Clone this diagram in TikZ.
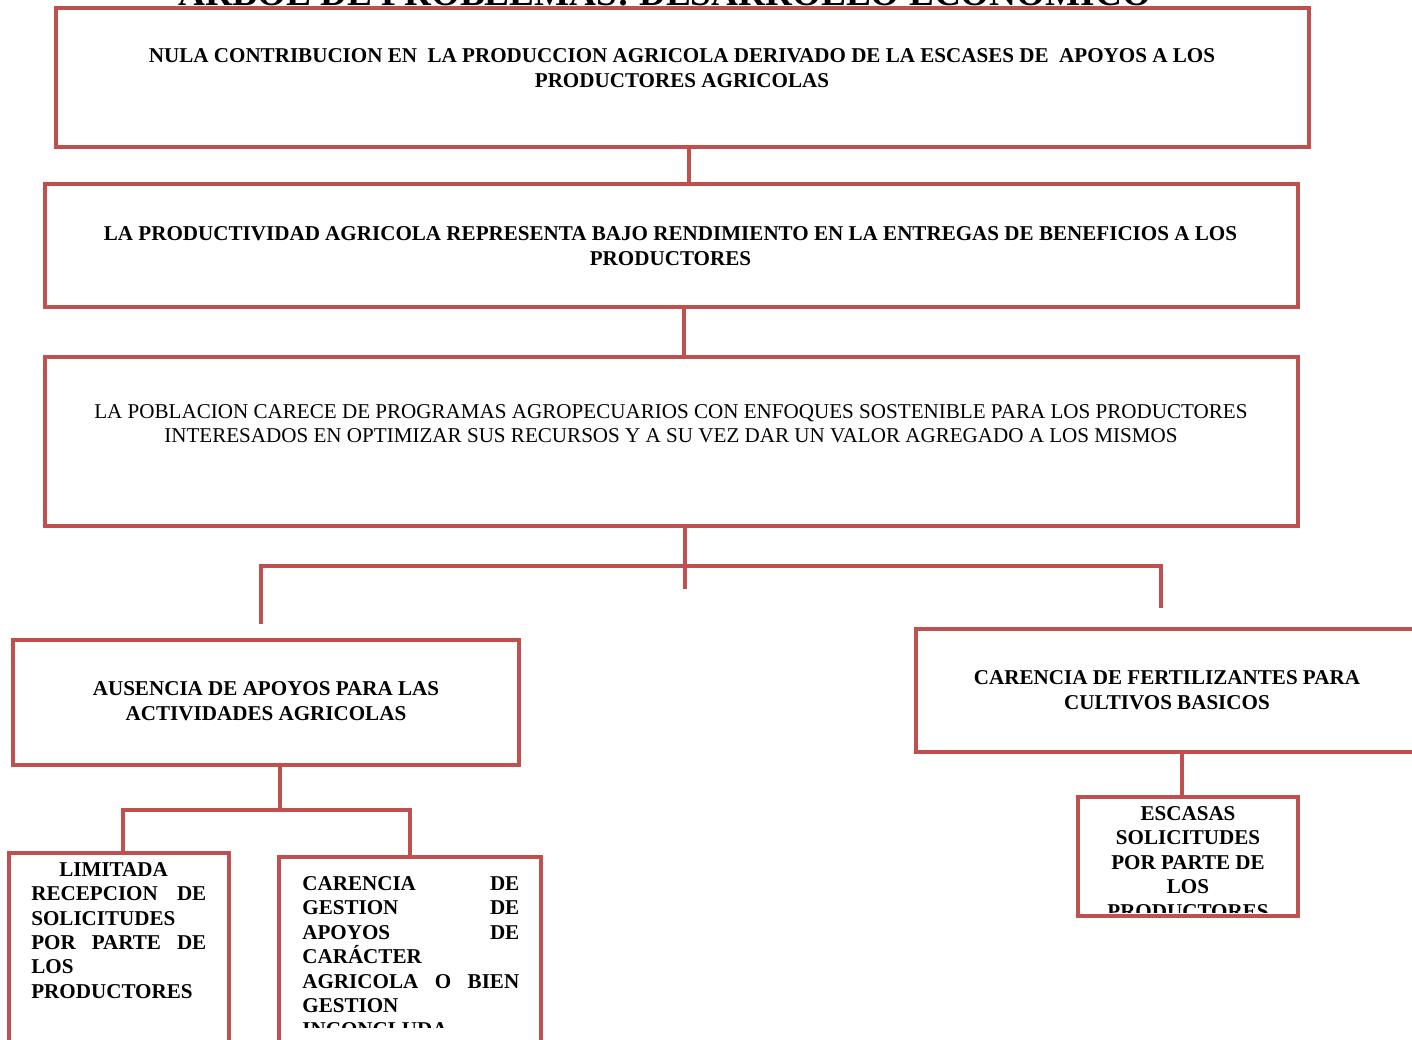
\documentclass[tikz,border=0pt]{standalone}
\usepackage{fontspec}
\setmainfont{Liberation Serif}
\usetikzlibrary{positioning}
\definecolor{arbolrojo}{HTML}{C0504D}

\begin{document}
\begin{tikzpicture}[
  x=0.02cm, y=-0.02cm,
  every node/.style={font=\bfseries\fontsize{12}{13.9}\selectfont},
  caja/.style={rectangle, draw=arbolrojo, line width=2.3pt, inner sep=0pt},
  texto/.style={align=center, inner sep=0pt},
  parrafo/.style={align=justify, inner sep=0pt},
  conn/.style={draw=arbolrojo, line width=2.3pt}
]
\useasboundingbox (0,0) rectangle (1412,1039);
\clip (0,0) rectangle (1412,1039);

% titulo (cortado arriba)
\node[font=\bfseries\fontsize{21.2}{25}\selectfont, anchor=base] (titulo) at (665,5)
{ARBOL DE PROBLEMAS: DESARROLLO ECONOMICO};

% cajas
\node[caja, minimum width=25.06cm, minimum height=2.78cm] (efecto) at (682.5,77.5) {};
\node[caja, minimum width=25.06cm, minimum height=2.46cm] (productividad) at (671.5,245.5) {};
\node[caja, minimum width=25.06cm, minimum height=3.38cm] (problema) at (671.5,441.5) {};
\node[caja, minimum width=10.12cm, minimum height=2.5cm] (ausencia) at (266,702.5) {};
\node[caja, minimum width=10.08cm, minimum height=2.46cm] (fertilizantes) at (1168,690.5) {};
\node[caja, minimum width=4.4cm, minimum height=2.38cm] (escasas) at (1188,856.5) {};
\node[caja, minimum width=4.4cm, minimum height=4.94cm] (limitada) at (119,976.5) {};
\node[caja, minimum width=5.24cm, minimum height=4.86cm] (gestion) at (410,978.5) {};

% textos
\node[texto] (tefecto) at (682,68)
{NULA CONTRIBUCION EN\ \ LA PRODUCCION AGRICOLA DERIVADO DE LA ESCASES DE\ \ APOYOS A LOS\\
PRODUCTORES AGRICOLAS};
\node[texto] (tproductividad) at (670.5,246)
{LA PRODUCTIVIDAD AGRICOLA REPRESENTA BAJO RENDIMIENTO EN LA ENTREGAS DE BENEFICIOS A LOS\\
PRODUCTORES};
\node[texto, font=\fontsize{12}{13.9}\selectfont] (tproblema) at (671,423.5)
{LA POBLACION CARECE DE PROGRAMAS AGROPECUARIOS CON ENFOQUES SOSTENIBLE PARA LOS PRODUCTORES\\
INTERESADOS EN OPTIMIZAR SUS RECURSOS Y A SU VEZ DAR UN VALOR AGREGADO A LOS MISMOS};
\node[texto] (tausencia) at (266,701)
{AUSENCIA DE APOYOS PARA LAS\\ACTIVIDADES AGRICOLAS};
\node[texto] (tfertilizantes) at (1167,690)
{CARENCIA DE FERTILIZANTES PARA\\CULTIVOS BASICOS};
\begin{scope}
\clip (1078,797) rectangle (1298,912);
\node[texto, anchor=north] (tescasas) at (1188,806)
{ESCASAS\\SOLICITUDES\\POR PARTE DE\\LOS\\PRODUCTORES};
\end{scope}
\node[parrafo, text width=3.5cm, anchor=north west] (tlimitada) at (31,862)
{\hspace*{0.56cm}LIMITADA\linebreak RECEPCION\ \ DE\linebreak SOLICITUDES\linebreak
POR PARTE DE\linebreak LOS\linebreak PRODUCTORES};
\begin{scope}
\clip (279,857) rectangle (541,1027);
\node[parrafo, text width=4.34cm, anchor=north west] (tgestion) at (302,876)
{CARENCIA DE\linebreak GESTION DE\linebreak APOYOS DE\linebreak CARÁCTER\linebreak
AGRICOLA O BIEN\linebreak GESTION\linebreak INCONCLUDA};
\end{scope}

% conectores
\coordinate (nivel) at (0,566);
\coordinate (nivelb) at (0,810);
\coordinate (ramaizq) at ([xshift=-1mm,yshift=2.8mm]ausencia.north);
\coordinate (ramader) at ([xshift=-1.4mm,yshift=3.8mm]fertilizantes.north);

\draw[conn] ([xshift=1.3mm]efecto.south) -- ([xshift=1.3mm]efecto.south |- productividad.north);
\draw[conn] ([xshift=2.5mm]productividad.south) -- ([xshift=2.5mm]productividad.south |- problema.north);
\draw[conn] ([xshift=2.7mm]problema.south) -- ++(0,61);
\draw[conn] (ramaizq) |- (nivel -| ramader) -- (ramader);
\draw[conn] ([xshift=2.8mm]fertilizantes.south) -- ([xshift=2.8mm]fertilizantes.south |- escasas.north);
\draw[conn] ([xshift=2.8mm]ausencia.south) -- ++(0,45);
\draw[conn] ([xshift=0.8mm]limitada.north) |- (nivelb -| gestion.north) -- (gestion.north);

\end{tikzpicture}
\end{document}
